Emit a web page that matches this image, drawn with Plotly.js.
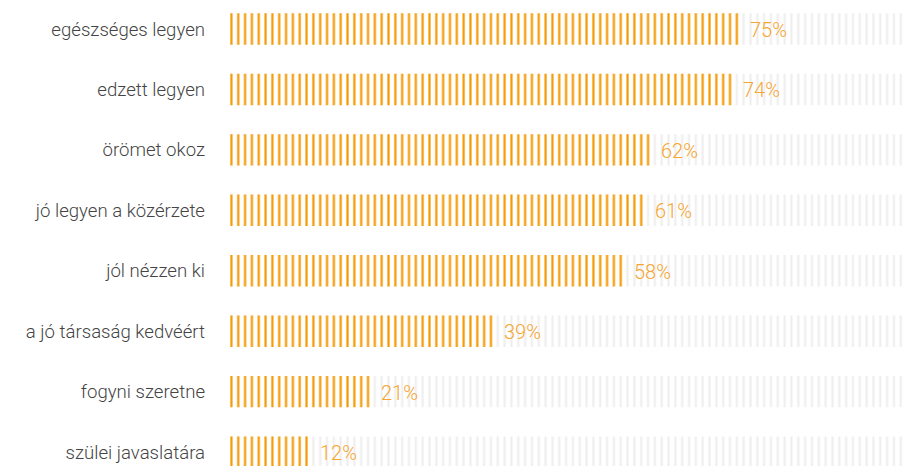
<!DOCTYPE html>
<html>
<head>
<meta charset="utf-8">
<script src="https://cdn.plot.ly/plotly-3.0.1.min.js"></script>
<style>html,body{margin:0;padding:0;background:#fff;}#chart{width:906px;height:466px;}</style>
</head>
<body>
<div id="chart"></div>
<script>
const categories = [
  "egészséges legyen",
  "edzett legyen",
  "örömet okoz",
  "jó legyen a közérzete",
  "jól nézzen ki",
  "a jó társaság kedvéért",
  "fogyni szeretne",
  "szülei javaslatára"
];
const values = [75, 74, 62, 61, 58, 39, 21, 12];
const fullScale = categories.map(() => 100);

const bg = {
  type: 'bar', orientation: 'h',
  y: categories, x: fullScale,
  width: 0.52,
  marker: {
    color: '#ffffff',
    line: {width: 0},
    pattern: {shape: '|', size: 6.83, solidity: 0.3, fgcolor: '#eeeeee', bgcolor: '#ffffff', fillmode: 'replace'}
  },
  hoverinfo: 'skip', showlegend: false
};
const fg = {
  type: 'bar', orientation: 'h',
  y: categories, x: values,
  width: 0.52,
  marker: {
    color: '#ffffff',
    line: {width: 0},
    pattern: {shape: '|', size: 6.83, solidity: 0.32, fgcolor: '#f59800', bgcolor: '#ffffff', fillmode: 'replace'}
  },
  showlegend: false
};

const annotations = values.map((v, i) => ({
  x: v, y: categories[i], xref: 'x', yref: 'y',
  text: v + '%', showarrow: false,
  xanchor: 'left', yanchor: 'middle', xshift: 8, yshift: -1,
  font: {family: 'Roboto, sans-serif', size: 20, weight: 300, color: '#f6a531'}
}));

const layout = {
  width: 906, height: 466,
  margin: {l: 228, r: 0, t: 0, b: 0},
  paper_bgcolor: '#ffffff', plot_bgcolor: '#ffffff',
  barmode: 'overlay',
  xaxis: {range: [0, 99.3], visible: false, fixedrange: true},
  yaxis: {
    range: [7.23, -0.48],
    tickfont: {family: 'Roboto, sans-serif', size: 18.6, weight: 300, color: '#444444'},
    ticks: '', showgrid: false, zeroline: false, showline: false,
    ticklabelstandoff: 22
  },
  annotations: annotations,
  font: {family: 'Roboto, sans-serif'}
};
Plotly.newPlot('chart', [bg, fg], layout, {displayModeBar: false, staticPlot: true});
</script>
</body>
</html>
